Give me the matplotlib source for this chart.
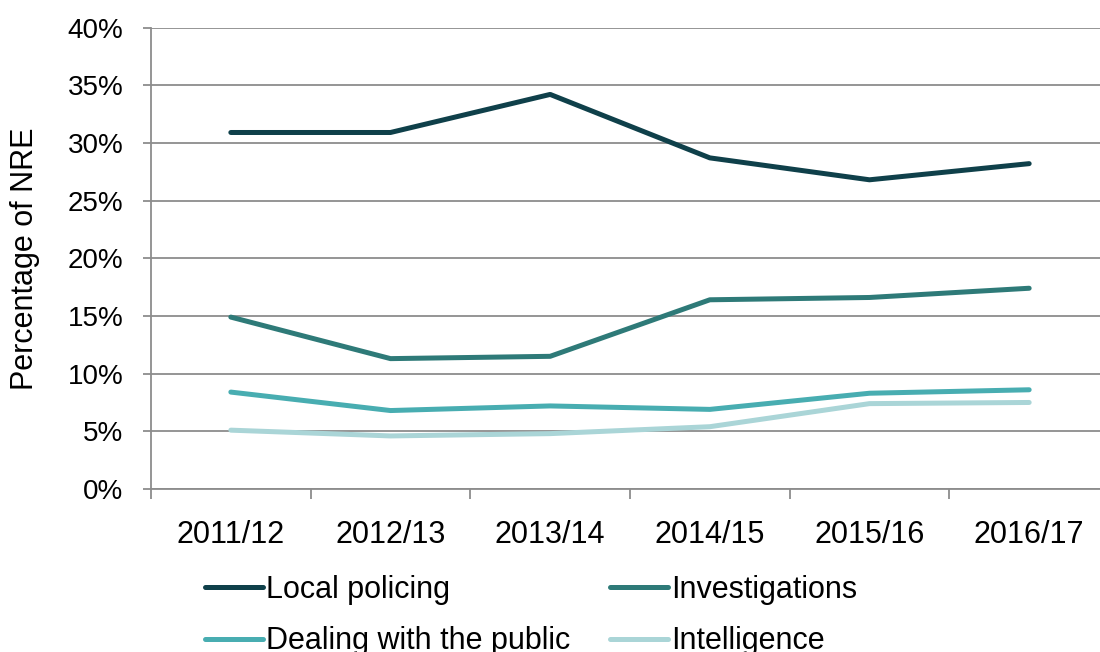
import numpy as np
import matplotlib
matplotlib.use("Agg")
import matplotlib.pyplot as plt
from matplotlib.ticker import FuncFormatter, FixedLocator

plt.rcParams['font.family'] = ['Liberation Sans', 'DejaVu Sans']

years = ['2011/12', '2012/13', '2013/14', '2014/15', '2015/16', '2016/17']
local_policing = [30.9, 30.9, 34.2, 28.7, 26.8, 28.2]
investigations = [14.9, 11.3, 11.5, 16.4, 16.6, 17.4]
dealing_public = [8.4, 6.8, 7.2, 6.9, 8.3, 8.6]
intelligence = [5.1, 4.6, 4.8, 5.4, 7.4, 7.5]

series = [
    ('Local policing', local_policing, '#0f404a'),
    ('Investigations', investigations, '#2e7a78'),
    ('Dealing with the public', dealing_public, '#48adb1'),
    ('Intelligence', intelligence, '#aad5d7'),
]

fig = plt.figure(figsize=(11, 6.52), dpi=100)
ax = fig.add_axes([151 / 1100, 1 - 489 / 652, 958 / 1100, (489 - 27.5) / 652])

x = np.arange(len(years))
lines = {}
for name, vals, col in series:
    lines[name], = ax.plot(x, np.array(vals) / 100, color=col, lw=3.6, label=name,
                           solid_capstyle='round', solid_joinstyle='round')

ax.set_ylim(0, 0.40)
ax.set_xlim(-0.5, len(years) - 0.5)
ax.set_yticks(np.arange(0, 0.41, 0.05))
ax.yaxis.set_major_formatter(FuncFormatter(lambda v, p: f'{v * 100:.0f}%'))
ax.grid(axis='y', color='#8c8c8c', lw=1.3)
ax.set_axisbelow(True)

ax.set_xticks(x)
ax.set_xticklabels(years)
ax.xaxis.set_minor_locator(FixedLocator(np.arange(-0.5, len(years), 1.0)))
ax.tick_params(axis='x', which='major', length=0, pad=22, labelsize=22)
ax.tick_params(axis='x', which='minor', length=7, width=1.3, color='#8c8c8c', direction='out')
ax.tick_params(axis='y', length=6, width=1.3, color='#8c8c8c', pad=14, labelsize=20)

for s in ['top', 'right']:
    ax.spines[s].set_visible(False)
for s in ['left', 'bottom']:
    ax.spines[s].set_color('#8c8c8c')
    ax.spines[s].set_linewidth(1.3)

ax.set_ylabel('Percentage of NRE', fontsize=22)
ax.yaxis.set_label_coords((40 - 151) / 958, 0.5)

# row-major legend order like the original
order = ['Local policing', 'Dealing with the public', 'Investigations', 'Intelligence']
fig.legend([lines[n] for n in order], order, loc='upper left',
           bbox_to_anchor=(205 / 1100, 1 - 575 / 652), ncol=2,
           frameon=False, fontsize=22, handlelength=1.9, handletextpad=0.1,
           columnspacing=1.3, labelspacing=0.7, borderpad=0, borderaxespad=0)

fig.savefig('out.png', dpi=100)
